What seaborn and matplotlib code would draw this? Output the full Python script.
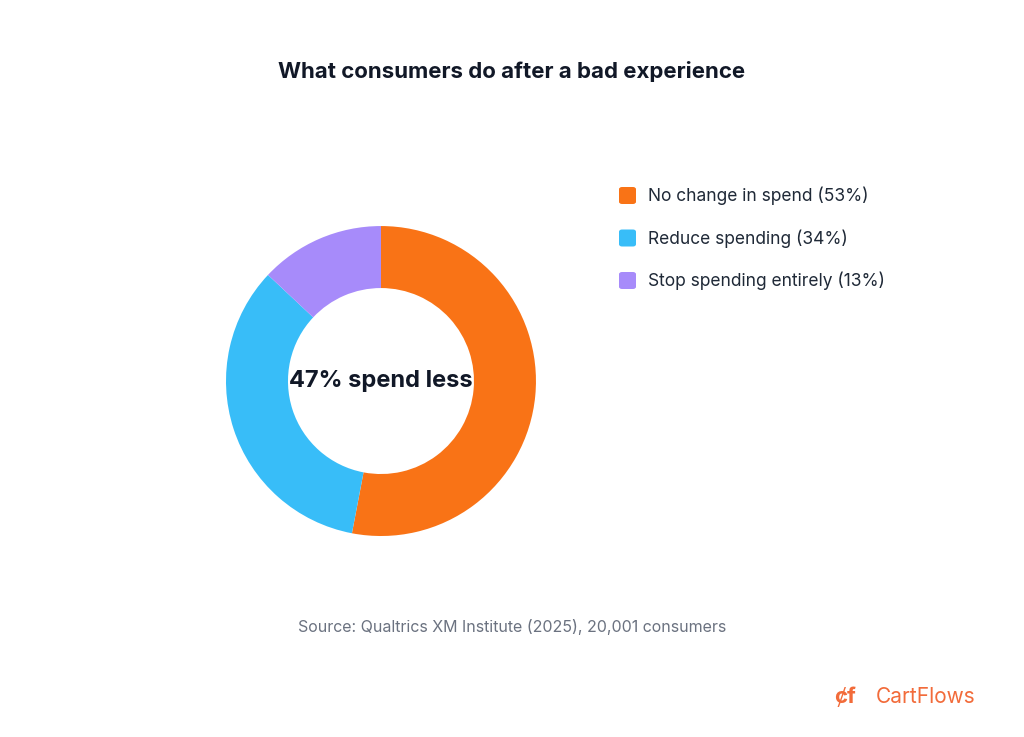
import matplotlib
matplotlib.use("Agg")
import matplotlib.pyplot as plt
import seaborn as sns
from matplotlib.patches import FancyBboxPatch

sns.set_theme(style="white")
plt.rcParams['font.family'] = ['Inter', 'DejaVu Sans']

labels = ["No change in spend", "Reduce spending", "Stop spending entirely"]
values = [53, 34, 13]
colors = ["#F97316", "#38BDF8", "#A78BFA"]
title = "What consumers do after a bad experience"
center_text = "47% spend less"
source = "Source: Qualtrics XM Institute (2025), 20,001 consumers"

fig = plt.figure(figsize=(10.24, 7.37), dpi=100)
fig.patch.set_facecolor("white")
ax = fig.add_axes([0.2207, 0.2727, 0.3027, 0.4206])
ax.pie(values, colors=colors, startangle=90, counterclock=False, radius=1,
       wedgeprops=dict(width=0.4, edgecolor="none"))
ax.set_xlim(-1, 1); ax.set_ylim(-1, 1); ax.set_aspect("equal"); ax.axis("off")
ax.text(0, 0, center_text, ha="center", va="center", fontsize=17, fontweight="bold", color="#111827")

fig.text(0.5, 1 - 72/737, title, ha="center", va="center", fontsize=16, fontweight="bold", color="#111827")

for i, (lab, v, c) in enumerate(zip(labels, values, colors)):
    y = 1 - (196 + i*42.5)/737
    fig.patches.append(FancyBboxPatch((619/1024, y - 8/737), 17/1024, 17/737,
                                      boxstyle="round,pad=0,rounding_size=0.003",
                                      transform=fig.transFigure, facecolor=c, edgecolor="none"))
    fig.text(648/1024, y, f"{lab} ({v}%)", ha="left", va="center", fontsize=12.5, color="#1F2937")

fig.text(0.5, 1 - 627/737, source, ha="center", va="center", fontsize=11.5, color="#6B7280")
fig.text(975/1024, 1 - 697/737, "CartFlows", ha="right", va="center", fontsize=15, color="#F26B3A")
fig.text(845/1024, 1 - 697/737, "ȼf", ha="center", va="center", fontsize=16, fontweight="bold", color="#F26B3A")

fig.savefig("out.png", dpi=100, facecolor="white")
